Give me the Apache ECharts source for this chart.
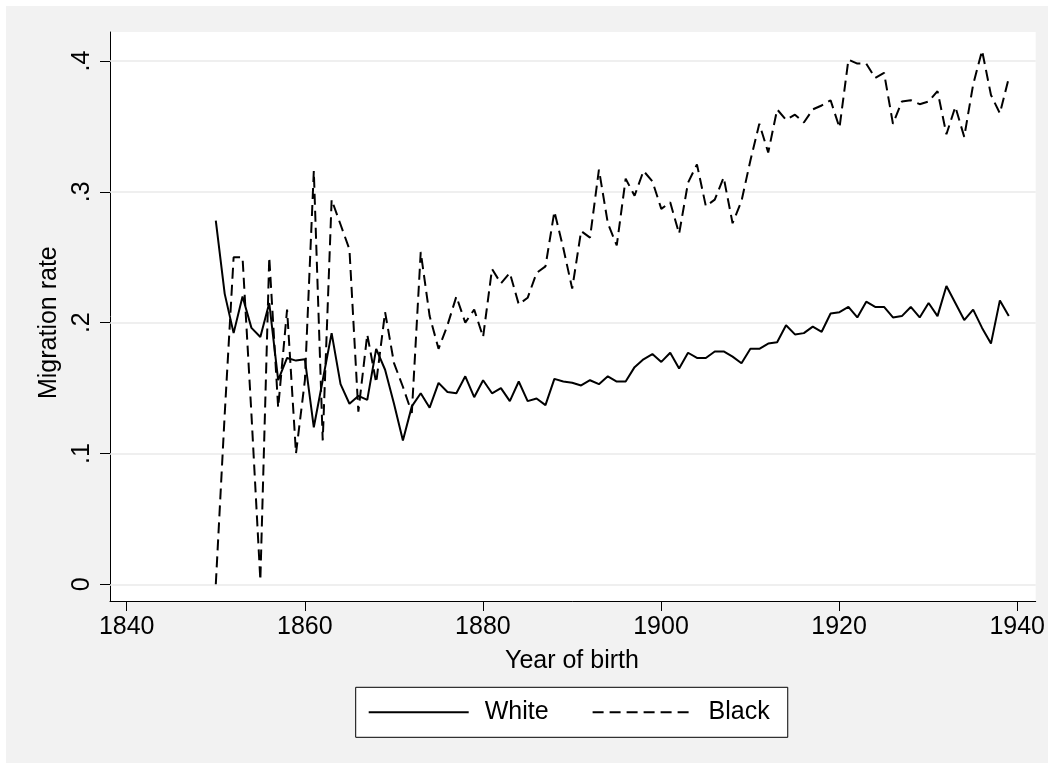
<!DOCTYPE html>
<html>
<head>
<meta charset="utf-8">
<title>Migration rate by year of birth</title>
<script src="https://cdn.jsdelivr.net/npm/echarts@6/dist/echarts.min.js"></script>
<style>
  html, body { margin: 0; padding: 0; background: #ffffff; }
  #chart { position: absolute; left: 6px; top: 6px; width: 1042px; height: 757px; }
</style>
</head>
<body>
<div id="chart"></div>
<script>
// Birth cohorts
const years = [
  1850, 1851, 1852, 1853, 1854, 1855, 1856, 1857, 1858, 1859,
  1860, 1861, 1862, 1863, 1864, 1865, 1866, 1867, 1868, 1869,
  1870, 1871, 1872, 1873, 1874, 1875, 1876, 1877, 1878, 1879,
  1880, 1881, 1882, 1883, 1884, 1885, 1886, 1887, 1888, 1889,
  1890, 1891, 1892, 1893, 1894, 1895, 1896, 1897, 1898, 1899,
  1900, 1901, 1902, 1903, 1904, 1905, 1906, 1907, 1908, 1909,
  1910, 1911, 1912, 1913, 1914, 1915, 1916, 1917, 1918, 1919,
  1920, 1921, 1922, 1923, 1924, 1925, 1926, 1927, 1928, 1929,
  1930, 1931, 1932, 1933, 1934, 1935, 1936, 1937, 1938, 1939
];

// Migration rate, white
const white = [
  0.278, 0.222, 0.192, 0.220, 0.196, 0.189, 0.215, 0.156, 0.173, 0.171,
  0.172, 0.120, 0.156, 0.192, 0.153, 0.138, 0.144, 0.141, 0.180, 0.164,
  0.138, 0.110, 0.136, 0.146, 0.135, 0.154, 0.147, 0.146, 0.159, 0.143,
  0.156, 0.146, 0.150, 0.140, 0.155, 0.140, 0.142, 0.137, 0.157, 0.155,
  0.154, 0.152, 0.156, 0.153, 0.159, 0.155, 0.155, 0.166, 0.172, 0.176,
  0.170, 0.177, 0.165, 0.177, 0.173, 0.173, 0.178, 0.178, 0.174, 0.169,
  0.180, 0.180, 0.184, 0.185, 0.198, 0.191, 0.192, 0.197, 0.193, 0.207,
  0.208, 0.212, 0.204, 0.216, 0.212, 0.212, 0.204, 0.205, 0.212, 0.204,
  0.215, 0.205, 0.228, 0.215, 0.202, 0.210, 0.196, 0.184, 0.217, 0.205
];

// Migration rate, black
const black = [
  0.000, 0.130, 0.250, 0.250, 0.130, 0.003, 0.250, 0.135, 0.210, 0.100,
  0.156, 0.316, 0.110, 0.294, 0.275, 0.256, 0.132, 0.191, 0.154, 0.208,
  0.169, 0.151, 0.131, 0.254, 0.205, 0.180, 0.198, 0.220, 0.200, 0.210,
  0.189, 0.241, 0.230, 0.238, 0.214, 0.219, 0.238, 0.243, 0.285, 0.257,
  0.226, 0.270, 0.265, 0.317, 0.276, 0.259, 0.310, 0.297, 0.316, 0.308,
  0.287, 0.292, 0.268, 0.307, 0.321, 0.289, 0.294, 0.311, 0.276, 0.293,
  0.324, 0.352, 0.330, 0.363, 0.355, 0.359, 0.353, 0.363, 0.366, 0.370,
  0.349, 0.401, 0.398, 0.398, 0.387, 0.391, 0.352, 0.369, 0.370, 0.367,
  0.369, 0.377, 0.344, 0.365, 0.342, 0.382, 0.408, 0.374, 0.360, 0.387
];

// Axis ticks and their labels
const xTicks = [1840, 1860, 1880, 1900, 1920, 1940];
const yTicks = [0, 0.1, 0.2, 0.3, 0.4];
const yTickLabels = ['0', '.1', '.2', '.3', '.4'];

// Layout (pixels inside the chart container)
const plot = { left: 104, top: 26, width: 925.7, height: 569 };   // white plot region
const xSpan = { left: 120.7, width: 891 };                        // 1840 .. 1940
const ySpan = { top: 55, height: 523.3 };                         // 0 .. 0.4

const xStep = xTicks[1] - xTicks[0];
const yStep = yTicks[1] - yTicks[0];
const xLo = xTicks[0], xHi = xTicks[xTicks.length - 1];
const yLo = yTicks[0], yHi = yTicks[yTicks.length - 1];

// Extend the data scale so the plot region reaches past the outer ticks
const pxPerX = xSpan.width / (xHi - xLo);
const pxPerY = ySpan.height / (yHi - yLo);
const xMin = xLo - (xSpan.left - plot.left) / pxPerX;
const xMax = xHi + (plot.left + plot.width - xSpan.left - xSpan.width) / pxPerX;
const yMax = yHi + (ySpan.top - plot.top) / pxPerY;
const yMin = yLo - (plot.top + plot.height - ySpan.top - ySpan.height) / pxPerY;

const FONT = '"Liberation Sans", Arial, Helvetica, sans-serif';
const INK = '#000000';

const chart = echarts.init(document.getElementById('chart'), null, { renderer: 'canvas' });

chart.setOption({
  backgroundColor: '#f2f2f2',
  animation: false,
  textStyle: { fontFamily: FONT, color: INK },
  grid: [
    { left: plot.left, top: plot.top, width: plot.width, height: plot.height,
      show: true, backgroundColor: '#ffffff', borderWidth: 0, containLabel: false },
    { left: xSpan.left, top: plot.top, width: xSpan.width, height: plot.height, containLabel: false },
    { left: plot.left, top: ySpan.top, width: plot.width, height: ySpan.height, containLabel: false }
  ],
  xAxis: [
    { gridIndex: 0, type: 'value', min: xMin, max: xMax,
      axisLine: { show: true, onZero: false, lineStyle: { color: INK, width: 1 } },
      axisTick: { show: false }, axisLabel: { show: false }, splitLine: { show: false } },
    { gridIndex: 1, type: 'value', min: xLo, max: xHi, interval: xStep,
      axisLine: { show: false },
      axisTick: { show: true, inside: false, length: 10, lineStyle: { color: INK, width: 1 } },
      axisLabel: { show: true, margin: 14, fontSize: 25, color: INK, fontFamily: FONT,
        formatter: function (v) { return String(Math.round(v)); } },
      splitLine: { show: false },
      name: 'Year of birth', nameLocation: 'middle', nameGap: 48,
      nameTextStyle: { fontSize: 25, color: INK, fontFamily: FONT } },
    { gridIndex: 2, type: 'value', show: false }
  ],
  yAxis: [
    { gridIndex: 0, type: 'value', min: yMin, max: yMax,
      axisLine: { show: true, onZero: false, lineStyle: { color: INK, width: 1 } },
      axisTick: { show: false }, axisLabel: { show: false }, splitLine: { show: false } },
    { gridIndex: 1, type: 'value', show: false },
    { gridIndex: 2, type: 'value', min: yLo, max: yHi, interval: yStep, z: 1,
      axisLine: { show: false },
      axisTick: { show: true, inside: false, length: 10, lineStyle: { color: INK, width: 1 } },
      axisLabel: { show: true, rotate: 90, margin: 15, fontSize: 25, color: INK, fontFamily: FONT,
        formatter: function (v) {
          const i = yTicks.findIndex(t => Math.abs(t - v) < 1e-9);
          return i >= 0 ? yTickLabels[i] : '';
        } },
      splitLine: { show: true, lineStyle: { color: '#eaeaea', width: 1.5 } },
      name: 'Migration rate', nameLocation: 'middle', nameGap: 32, nameRotate: 90,
      nameTextStyle: { fontSize: 25, color: INK, fontFamily: FONT } }
  ],
  legend: {
    left: 349.7, top: 681.3,
    orient: 'horizontal',
    selectedMode: false,
    backgroundColor: '#ffffff',
    borderColor: INK, borderWidth: 1, borderRadius: 0,
    padding: [12, 18, 12, 12],
    itemGap: 43,
    itemWidth: 100, itemHeight: 14,
    itemStyle: { opacity: 0 },
    lineStyle: { opacity: 1 },
    textStyle: { fontSize: 25, lineHeight: 26, color: INK, fontFamily: FONT, padding: [0, 0, 0, 11] },
    data: ['White', 'Black']
  },
  series: [
    { name: 'White', type: 'line', xAxisIndex: 0, yAxisIndex: 0,
      data: years.map((y, i) => [y, white[i]]),
      symbol: 'none', showSymbol: false, z: 3,
      lineStyle: { color: INK, width: 2, type: 'solid' },
      itemStyle: { color: INK } },
    { name: 'Black', type: 'line', xAxisIndex: 0, yAxisIndex: 0,
      data: years.map((y, i) => [y, black[i]]),
      symbol: 'none', showSymbol: false, z: 3,
      lineStyle: { color: INK, width: 2, type: [11, 6] },
      itemStyle: { color: INK } }
  ]
});
</script>
</body>
</html>
